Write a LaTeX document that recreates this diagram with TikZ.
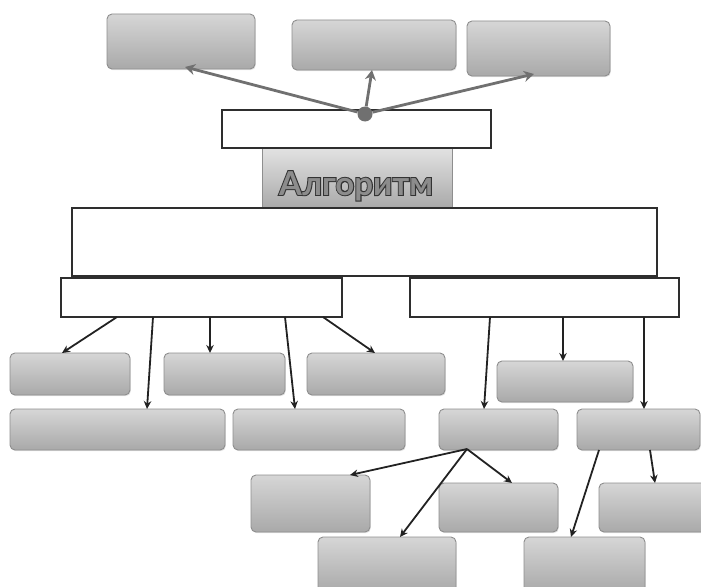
\documentclass[tikz,border=0pt]{standalone}
\usepackage{fontspec}
\usetikzlibrary{arrows.meta,shadows}
\newfontfamily\algdark[RawFeature={embolden=6}]{Lato Bold}
\newfontfamily\alglite{Lato Bold}
\definecolor{boxtop}{HTML}{D6D6D6}
\definecolor{boxbot}{HTML}{A9A9A9}
\definecolor{boxline}{HTML}{8E8E8E}
\definecolor{wline}{HTML}{2E2E2E}
\definecolor{arrgray}{HTML}{707070}
\definecolor{arrdark}{HTML}{222222}
\definecolor{algfill}{HTML}{8C8C8C}
\begin{document}
\begin{tikzpicture}[x=1pt,y=-1pt,
  gbox/.style={draw=boxline, line width=0.9pt, rounded corners=5pt,
    top color=boxtop, bottom color=boxbot, inner sep=0pt, outer sep=0pt,
    drop shadow={opacity=0.22, shadow xshift=0.8pt, shadow yshift=-1.2pt}},
  wbox/.style={draw=wline, line width=1.3pt, fill=white, inner sep=0pt, outer sep=0pt},
  algbox/.style={draw=boxline, line width=0.8pt, top color=boxtop!70!white, bottom color=boxbot, inner sep=0pt, outer sep=0pt},
  algtext/.style={anchor=base, inner sep=0pt},
  garrow/.style={draw=arrgray, line width=2.8pt, -{Stealth[length=10pt,width=11pt]}},
  darrow/.style={draw=arrdark, line width=1.8pt, -{Stealth[length=8pt,width=7.5pt]}}]
\useasboundingbox (0,0) rectangle (701,586);

% top row
\node[gbox, minimum width=148pt, minimum height=55pt] (t1) at (181,41.5) {};
\node[gbox, minimum width=164pt, minimum height=50pt] (t2) at (374,45) {};
\node[gbox, minimum width=143pt, minimum height=55pt] (t3) at (538.5,48.5) {};

% central column
\node[algbox, minimum width=190pt, minimum height=60pt] (alg) at (357,178) {};
\node[wbox, minimum width=269pt, minimum height=38pt] (r1) at (356.5,129) {};
\node[algtext, text=black!80, font=\algdark\fontsize{33}{36}\selectfont] (algA) at (356,195) {Алгоритм};
\node[algtext, text=algfill, font=\alglite\fontsize{33}{36}\selectfont] (algB) at (356,195) {Алгоритм};
\node[wbox, minimum width=585pt, minimum height=68pt] (r2) at (364.5,242) {};
\node[wbox, minimum width=281pt, minimum height=39pt] (r3) at (201.5,297.5) {};
\node[wbox, minimum width=269pt, minimum height=39pt] (r4) at (544.5,297.5) {};

% dot and top arrows
\node[circle, fill=arrgray, minimum size=15pt, inner sep=0pt] (dot) at (365,114) {};
\coordinate (t1e) at (185,67);
\coordinate (t2e) at (372,70);
\coordinate (t3e) at (534,74);
\draw[garrow] (dot) -- (t1e);
\draw[garrow] (dot) -- (t2e);
\draw[garrow] (dot) -- (t3e);

% left group
\node[gbox, minimum width=120pt, minimum height=42pt] (a1) at (70,374) {};
\node[gbox, minimum width=121pt, minimum height=42pt] (a2) at (224.5,374) {};
\node[gbox, minimum width=138pt, minimum height=42pt] (a3) at (376,374) {};
\node[gbox, minimum width=215pt, minimum height=41pt] (b1) at (117.5,429.5) {};
\node[gbox, minimum width=172pt, minimum height=41pt] (b2) at (319,429.5) {};

% right group
\node[gbox, minimum width=136pt, minimum height=41pt] (c1) at (565,381.5) {};
\node[gbox, minimum width=119pt, minimum height=41pt] (c2) at (498.5,429.5) {};
\node[gbox, minimum width=123pt, minimum height=41pt] (c3) at (638.5,429.5) {};
\node[gbox, minimum width=119pt, minimum height=57pt] (d1) at (310.5,503.5) {};
\node[gbox, minimum width=119pt, minimum height=49pt] (d2) at (498.5,507.5) {};
\node[gbox, minimum width=115pt, minimum height=49pt] (d3) at (656.5,507.5) {};
\node[gbox, minimum width=138pt, minimum height=55pt] (e1) at (387,564.5) {};
\node[gbox, minimum width=121pt, minimum height=55pt] (e2) at (584.5,564.5) {};

% lower arrows from r3
\coordinate (s1) at (117,317);
\coordinate (s2) at (153,317);
\coordinate (s3) at (210,317);
\coordinate (s4) at (285,317);
\coordinate (s5) at (323,317);
\draw[darrow] (s1) -- (a1.north -| 62,0);
\draw[darrow] (s2) -- (b1.north -| 147,0);
\draw[darrow] (s3) -- (a2.north -| 210,0);
\draw[darrow] (s4) -- (b2.north -| 295,0);
\draw[darrow] (s5) -- (a3.north -| 375,0);

% lower arrows from r4
\coordinate (u1) at (490,317);
\coordinate (u2) at (563,317);
\coordinate (u3) at (644,317);
\draw[darrow] (u1) -- (c2.north -| 484,0);
\draw[darrow] (u2) -- (c1.north -| 563,0);
\draw[darrow] (u3) -- (c3.north -| 644,0);

% from c2
\coordinate (v0) at (467,449);
\draw[darrow] (v0) -- (d2.north -| 512,0);
\draw[darrow] (v0) -- (d1.north -| 350,0);
\draw[darrow] (v0) -- (e1.north -| 400,0);

% from c3
\coordinate (w1) at (599,450);
\coordinate (w2) at (650,450);
\draw[darrow] (w1) -- (e2.north -| 571,0);
\draw[darrow] (w2) -- (d3.north -| 655,0);
\end{tikzpicture}
\end{document}
